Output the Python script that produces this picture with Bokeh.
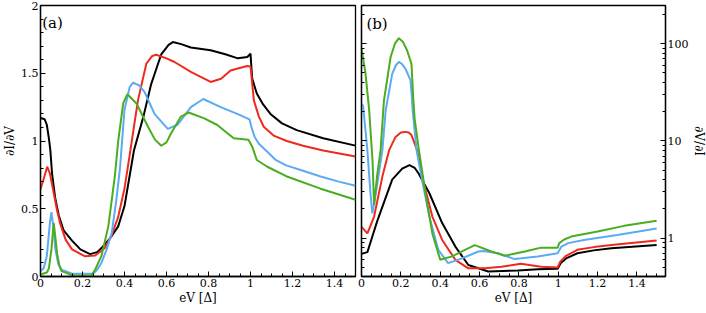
from bokeh.plotting import figure
from bokeh.layouts import row
from bokeh.models import Range1d, LinearAxis, LogAxis, FixedTicker, Label
from bokeh.embed import file_html
from bokeh.resources import INLINE

FONT = "DejaVu Serif"
BLACK = "#000000"
RED = "#ee2a1f"
BLUE = "#5cabf2"
GREEN = "#4aad1f"

# ---------------- panel (a): dI/dV, linear ----------------
a_black_x = [0, 0.02, 0.03, 0.04, 0.047, 0.055, 0.07, 0.087, 0.11, 0.15, 0.19, 0.236, 0.27, 0.29, 0.33, 0.37,
             0.40, 0.445, 0.49, 0.527, 0.575, 0.61, 0.63, 0.67, 0.716, 0.81, 0.88, 0.94, 0.985, 1.0, 1.008,
             1.03, 1.06, 1.095, 1.15, 1.22, 1.346, 1.5]
a_black_y = [1.17, 1.16, 1.12, 1.02, 0.93, 0.76, 0.58, 0.45, 0.34, 0.265, 0.20, 0.165, 0.18, 0.21, 0.28, 0.37,
             0.52, 0.93, 1.18, 1.42, 1.64, 1.71, 1.73, 1.715, 1.69, 1.67, 1.64, 1.61, 1.62, 1.645, 1.46,
             1.35, 1.27, 1.20, 1.13, 1.08, 1.02, 0.966]

a_red_x = [0, 0.015, 0.032, 0.045, 0.063, 0.08, 0.094, 0.12, 0.15, 0.21, 0.26, 0.307, 0.34, 0.37, 0.40, 0.425,
           0.464, 0.504, 0.53, 0.551, 0.60, 0.638, 0.716, 0.81, 0.86, 0.905, 0.984, 1.0, 1.016, 1.04, 1.063,
           1.11, 1.173, 1.25, 1.346, 1.5]
a_red_y = [0.645, 0.72, 0.81, 0.76, 0.615, 0.48, 0.39, 0.27, 0.20, 0.15, 0.155, 0.21, 0.31, 0.44, 0.65, 0.90,
           1.30, 1.57, 1.625, 1.637, 1.61, 1.583, 1.51, 1.436, 1.46, 1.52, 1.554, 1.55, 1.30, 1.18, 1.105,
           1.04, 1.0, 0.965, 0.93, 0.885]

a_blue_x = [0, 0.015, 0.03, 0.045, 0.052, 0.06, 0.071, 0.085, 0.10, 0.15, 0.25, 0.27, 0.29, 0.315, 0.339, 0.36,
            0.378, 0.40, 0.425, 0.441, 0.47, 0.496, 0.543, 0.606, 0.653, 0.716, 0.775, 0.858, 0.937, 0.995,
            1.005, 1.02, 1.04, 1.08, 1.12, 1.17, 1.25, 1.33, 1.42, 1.5]
a_blue_y = [0.04, 0.06, 0.15, 0.40, 0.475, 0.38, 0.20, 0.09, 0.05, 0.02, 0.02, 0.05, 0.10, 0.20, 0.32, 0.55,
            0.79, 1.23, 1.40, 1.43, 1.41, 1.36, 1.20, 1.09, 1.12, 1.25, 1.31, 1.25, 1.20, 1.16,
            1.10, 1.03, 0.98, 0.92, 0.86, 0.82, 0.78, 0.74, 0.70, 0.67]

a_green_x = [0, 0.03, 0.04, 0.052, 0.063, 0.07, 0.079, 0.09, 0.10, 0.15, 0.24, 0.26, 0.29, 0.323, 0.354, 0.37,
             0.394, 0.414, 0.457, 0.512, 0.545, 0.575, 0.60, 0.622, 0.669, 0.705, 0.78, 0.842, 0.88, 0.92,
             0.99, 1.008, 1.03, 1.08, 1.17, 1.33, 1.5]
a_green_y = [0.015, 0.03, 0.06, 0.20, 0.395, 0.30, 0.17, 0.08, 0.04, 0.01, 0.005, 0.05, 0.15, 0.37, 0.74, 1.0,
             1.28, 1.345, 1.277, 1.105, 1.01, 0.965, 0.99, 1.057, 1.18, 1.21, 1.167, 1.118, 1.07, 1.02,
             1.01, 0.96, 0.86, 0.81, 0.74, 0.65, 0.566]

# ---------------- panel (b): dV/dI, log ----------------
b_black_x = [0, 0.03, 0.055, 0.08, 0.106, 0.156, 0.207, 0.244, 0.27, 0.291, 0.345, 0.41, 0.477, 0.543, 0.644,
             0.795, 0.896, 0.997, 1.013, 1.04, 1.097, 1.18, 1.27, 1.5]
b_black_y = [0.69, 0.72, 1.04, 1.5, 2.1, 4.0, 5.2, 5.65, 5.3, 4.6, 2.9, 1.43, 0.82, 0.53, 0.455,
             0.465, 0.48, 0.485, 0.555, 0.62, 0.70, 0.75, 0.79, 0.85]

b_red_x = [0, 0.03, 0.064, 0.106, 0.14, 0.173, 0.2, 0.224, 0.24, 0.254, 0.283, 0.316, 0.36, 0.41, 0.477, 0.543,
           0.627, 0.711, 0.81, 0.913, 0.997, 1.01, 1.04, 1.097, 1.18, 1.27, 1.5]
b_red_y = [1.31, 1.12, 1.67, 4.3, 8, 11, 12.2, 12.4, 12.2, 11.5, 8, 3.7, 1.67, 0.96, 0.60, 0.49,
           0.49, 0.51, 0.545, 0.51, 0.50, 0.575, 0.66, 0.76, 0.81, 0.85, 0.945]

b_blue_x = [0.0, 0.008, 0.03, 0.045, 0.055, 0.068, 0.081, 0.106, 0.123, 0.156, 0.175, 0.19, 0.205, 0.224, 0.249,
            0.255, 0.26, 0.28, 0.311, 0.345, 0.39, 0.44, 0.51, 0.594, 0.62, 0.694, 0.778, 0.896, 0.997, 1.016,
            1.05, 1.13, 1.30, 1.5]
b_blue_y = [24, 23, 8, 3.0, 1.8, 2.5, 3.7, 8, 20.7, 49, 60, 65, 62, 55, 42,
            30, 20.7, 8, 3.7, 1.67, 0.76, 0.555, 0.62, 0.73, 0.74, 0.70, 0.61, 0.65, 0.70, 0.82,
            0.89, 0.96, 1.08, 1.26]

b_green_x = [0.0, 0.02, 0.039, 0.056, 0.064, 0.08, 0.097, 0.114, 0.148, 0.17, 0.19, 0.21, 0.232, 0.254, 0.262,
             0.27, 0.292, 0.30, 0.325, 0.36, 0.40, 0.46, 0.526, 0.576, 0.66, 0.728, 0.83, 0.913, 0.997, 1.005,
             1.03, 1.066, 1.2, 1.335, 1.5]
b_green_y = [89, 50, 20.7, 6.3, 2.2, 4.5, 8.05, 26, 73, 100, 114, 105, 85, 62, 30,
             17, 8, 6.3, 2.9, 1.12, 0.60, 0.65, 0.76, 0.85, 0.73, 0.66, 0.73, 0.80, 0.80, 0.89,
             0.97, 1.04, 1.17, 1.34, 1.51]

x_ticks = [0, 0.2, 0.4, 0.6, 0.8, 1.0, 1.2, 1.4]
x_tick_labels = {0: "0", 0.2: "0.2", 0.4: "0.4", 0.6: "0.6", 0.8: "0.8", 1.0: "1", 1.2: "1.2", 1.4: "1.4"}
a_y_ticks = [0, 0.5, 1.0, 1.5, 2.0]
a_y_tick_labels = {0: "0", 0.5: "0.5", 1.0: "1", 1.5: "1.5", 2.0: "2"}
b_y_ticks = [1, 10, 100]
b_y_tick_labels = {1: "1", 10: "10", 100: "100"}
b_y_minor = [m * 10 ** e for e in (-1, 0, 1, 2) for m in range(2, 10)]

TICK_FS = "11px"
LABEL_FS = "12px"


def style_axis(ax, labels=True):
    ax.major_tick_in = 5
    ax.major_tick_out = 0
    ax.minor_tick_in = 3
    ax.minor_tick_out = 0
    ax.major_tick_line_color = "black"
    ax.minor_tick_line_color = "black"
    ax.axis_line_color = "black"
    ax.axis_line_width = 1.3
    ax.major_label_text_font = FONT
    ax.major_label_text_color = "black"
    ax.axis_label_text_font = FONT
    ax.axis_label_text_font_style = "normal"
    ax.axis_label_text_font_size = LABEL_FS
    ax.axis_label_text_color = "black"
    ax.major_label_standoff = 2
    ax.axis_label_standoff = 1
    ax.major_label_text_font_size = TICK_FS
    if not labels:
        ax.major_label_text_alpha = 0
        ax.major_label_text_font_size = "2px"
        ax.major_label_standoff = 0


def base_fig(**kw):
    p = figure(output_backend="svg", toolbar_location=None, **kw)
    p.xgrid.visible = False
    p.ygrid.visible = False
    p.outline_line_color = "black"
    p.outline_line_width = 1.3
    p.background_fill_color = "white"
    p.border_fill_color = "white"
    return p


# ---- left figure
pa = base_fig(frame_width=315, frame_height=271, x_range=Range1d(0, 1.5), y_range=Range1d(0, 2),
              x_axis_location=None, y_axis_location=None,
              min_border_left=27, min_border_right=2, min_border_top=5, min_border_bottom=26)
xa = LinearAxis(axis_label="eV [Δ]")
xa.ticker = FixedTicker(ticks=x_ticks, minor_ticks=[i * 0.05 for i in range(31)])
xa.major_label_overrides = x_tick_labels
style_axis(xa)
pa.add_layout(xa, "below")
ya = LinearAxis(axis_label="∂I/∂V")
ya.ticker = FixedTicker(ticks=a_y_ticks, minor_ticks=[i * 0.1 for i in range(21)])
ya.major_label_overrides = a_y_tick_labels
style_axis(ya)
pa.add_layout(ya, "left")

for xs, ys, c in [(a_black_x, a_black_y, BLACK), (a_red_x, a_red_y, RED),
                  (a_blue_x, a_blue_y, BLUE), (a_green_x, a_green_y, GREEN)]:
    pa.line(xs, ys, line_color=c, line_width=2)
pa.add_layout(Label(x=0.008, y=1.94, text="(a)", text_font=FONT, text_font_size="15px",
                    text_baseline="top", text_align="left", text_color="black"))

# ---- right figure
pb = base_fig(frame_width=304, frame_height=271, x_range=Range1d(0, 1.545), y_range=Range1d(0.404, 247),
              y_axis_type="log", x_axis_location=None, y_axis_location=None,
              min_border_left=4, min_border_right=30, min_border_top=5, min_border_bottom=26)
xb = LinearAxis(axis_label="eV [Δ]")
xb.ticker = FixedTicker(ticks=x_ticks, minor_ticks=[i * 0.05 for i in range(31)])
xb.major_label_overrides = x_tick_labels
style_axis(xb)
pb.add_layout(xb, "below")
yb_r = LogAxis(axis_label="∂V/∂I")
yb_r.ticker = FixedTicker(ticks=b_y_ticks, minor_ticks=b_y_minor)
yb_r.major_label_overrides = b_y_tick_labels
style_axis(yb_r)
pb.add_layout(yb_r, "right")
yb_l = LogAxis()
yb_l.ticker = FixedTicker(ticks=b_y_ticks, minor_ticks=b_y_minor)
style_axis(yb_l, labels=False)
pb.add_layout(yb_l, "left")

for xs, ys, c in [(b_black_x, b_black_y, BLACK), (b_red_x, b_red_y, RED),
                  (b_blue_x, b_blue_y, BLUE), (b_green_x, b_green_y, GREEN)]:
    pb.line(xs, ys, line_color=c, line_width=2)
pb.add_layout(Label(x=0.025, y=195, text="(b)", text_font=FONT, text_font_size="15px",
                    text_baseline="top", text_align="left", text_color="black"))

layout = row(pa, pb)
open("out.html", "w").write(file_html(layout, INLINE))
